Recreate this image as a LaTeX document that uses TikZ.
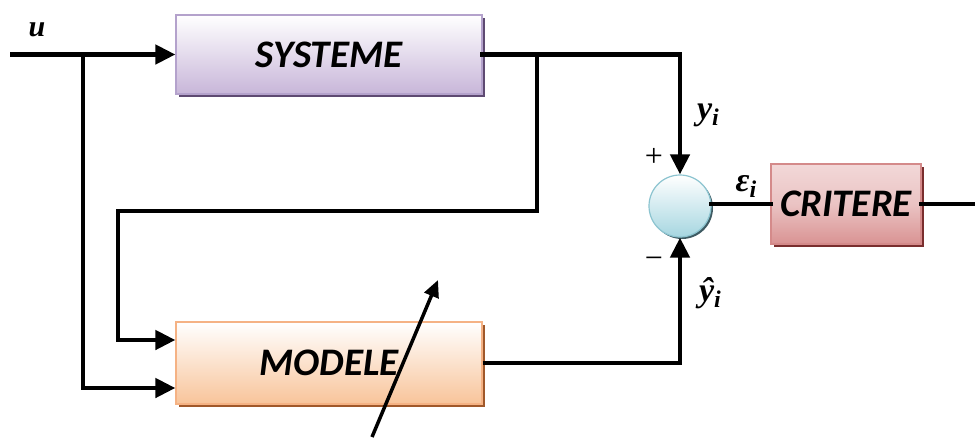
\documentclass[tikz,border=0pt]{standalone}
\usepackage{fontspec}
\newfontfamily\boxfont{Carlito}
\newfontfamily\labfont{Liberation Serif}
\usetikzlibrary{arrows.meta,shadows,calc}
\definecolor{sysB}{HTML}{C8B6D9}
\definecolor{sysD}{HTML}{B4A2CC}
\definecolor{sysS}{HTML}{5E4A72}
\definecolor{modB}{HTML}{F8C49A}
\definecolor{modD}{HTML}{F5B284}
\definecolor{modS}{HTML}{A0582A}
\definecolor{criB}{HTML}{D99393}
\definecolor{criT}{HTML}{F2D8D8}
\definecolor{criD}{HTML}{D48A8A}
\definecolor{criS}{HTML}{7A2E2E}
\definecolor{cirB}{HTML}{A6D6E0}
\definecolor{cirD}{HTML}{8CC4D0}
\definecolor{cirS}{HTML}{3E5A62}
\newcommand{\lsub}[1]{\raisebox{-6pt}{\fontsize{24}{24}\selectfont #1}}
\tikzset{
  blockbox/.style={rectangle, draw, line width=1.2pt, inner sep=0pt,
    font=\boxfont\bfseries\itshape\fontsize{39}{42}\selectfont},
  wire/.style={line width=4.5pt, line cap=rect},
  arr/.style={wire, -{Triangle[length=20pt,width=19pt]}, line cap=butt},
  lab/.style={inner sep=1pt, font=\labfont\bfseries\itshape\fontsize{34}{36}\selectfont},
  sgn/.style={inner sep=1pt, font=\labfont\fontsize{32}{34}\selectfont},
}
\begin{document}
\begin{tikzpicture}[x=1pt,y=-1pt]
\useasboundingbox (0,0) rectangle (975,437);
% blocks
\node[blockbox, minimum width=306pt, minimum height=79pt, draw=sysD,
  top color=white, bottom color=sysB,
  drop shadow={shadow xshift=3pt, shadow yshift=-3pt, fill=sysS, opacity=1}]
  (sys) at (329,54.5) {SYSTEME};
\node[blockbox, minimum width=306pt, minimum height=82pt, draw=modD,
  top color=white, bottom color=modB,
  drop shadow={shadow xshift=3pt, shadow yshift=-3pt, fill=modS, opacity=1}]
  (mod) at (329,363) {MODELE};
\node[blockbox, minimum width=150pt, minimum height=80pt, draw=criD,
  top color=criT, bottom color=criB, middle color=criT!70!criB,
  drop shadow={shadow xshift=3pt, shadow yshift=-3pt, fill=criS, opacity=1}]
  (cri) at (846,204) {CRITERE};
\node[circle, minimum size=62pt, inner sep=0pt, draw=cirD, line width=1.2pt,
  top color=white, bottom color=cirB,
  drop shadow={shadow xshift=2pt, shadow yshift=-2pt, fill=cirS, opacity=1}]
  (sum) at (680,206) {};
% coordinates
\coordinate (uin) at (10,54.5);
\coordinate (b1) at (83,54.5);
\coordinate (m1) at ($(mod.west)+(0,-23)$);
\coordinate (m2) at ($(mod.west)+(0,25)$);
\coordinate (b2) at (537,54.5);
\coordinate (yc) at (680,54.5);
\coordinate (out) at (975,204);
\coordinate (d1) at (372,437);
\coordinate (d2) at (438,280);
% wires
\draw[arr] (uin) -- (sys.west);
\draw[arr] (b1) -- (b1 |- m2) -- (m2);
\draw[wire] (sys.east) -- (yc);
\draw[arr] (yc) -- (sum.north);
\draw[arr] (b2) -- (537,211) -- (118,211) -- (118,340) -- (m1);
\draw[arr] (mod.east) -- (sum.south |- mod.east) -- (sum.south);
\draw[wire] (sum.east |- cri.west) -- (cri.west);
\draw[wire] (cri.east) -- (out);
\draw[line width=3.5pt, -{Triangle[length=17pt,width=15pt]}] (d1) -- (d2);
% labels
\node[lab, font=\labfont\bfseries\itshape\fontsize{30}{32}\selectfont] (lu) at (37,30) {u};
\node[lab] (ly) at (708,115) {y\lsub{i}};
\node[lab] (lyh) at (710,293) {ŷ\lsub{i}};
\node[lab] (le) at (746,186) {ε\lsub{i}};
\node[sgn] (lp) at (654,157) {+};
\node[sgn] (lm) at (654,263) {−};
\end{tikzpicture}
\end{document}
